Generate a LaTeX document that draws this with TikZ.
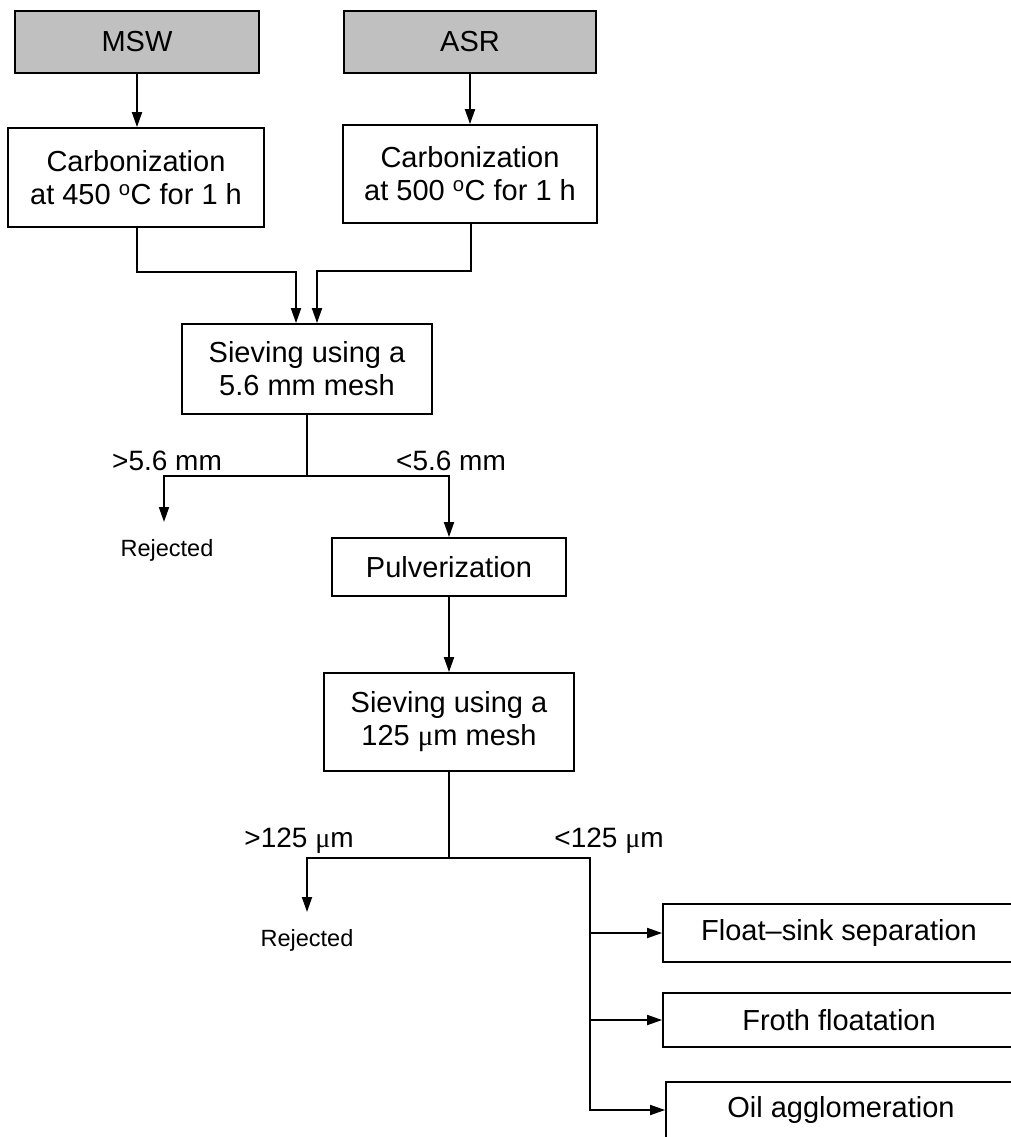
\documentclass[tikz,border=0pt]{standalone}
\usepackage{fontspec}
\setmainfont{Liberation Sans}
\newfontfamily\greekf{Liberation Serif}
\usetikzlibrary{arrows.meta}
\definecolor{srcgray}{HTML}{C0C0C0}
\newcommand{\umic}{{\greekf μ}m}
\begin{document}
\begin{tikzpicture}[x=1pt,y=-1pt,
  box/.style={draw, line width=1.8pt, inner sep=0pt, align=center, font=\fontsize{29}{33}\selectfont},
  src/.style={box, fill=srcgray},
  lbl/.style={font=\fontsize{28}{33}\selectfont, anchor=base, inner sep=0pt},
  rej/.style={font=\fontsize{23.5}{28}\selectfont, anchor=base, inner sep=0pt},
  ln/.style={line width=1.8pt},
  arr/.style={ln, -{Triangle[length=15pt,width=10pt]}}]
\useasboundingbox (0,0) rectangle (1011,1137);
\clip (0,0) rectangle (1011,1137);
% nodes
\node[src, minimum width=244pt, minimum height=62pt] (msw) at (137,42) {MSW};
\node[src, minimum width=252pt, minimum height=62pt] (asr) at (470,42) {ASR};
\node[box, minimum width=256pt, minimum height=99pt] (c1) at (136,177.5) {Carbonization\\at 450 \textsuperscript{o}C for 1 h};
\node[box, minimum width=254pt, minimum height=98pt] (c2) at (470,174) {Carbonization\\at 500 \textsuperscript{o}C for 1 h};
\node[box, minimum width=250pt, minimum height=90pt] (s1) at (307,369) {Sieving using a\\5.6 mm mesh};
\node[box, minimum width=234pt, minimum height=58pt] (pulv) at (449,567) {Pulverization};
\node[box, minimum width=250pt, minimum height=98pt] (s2) at (449,722) {Sieving using a\\125 \umic{} mesh};
\node[box, minimum width=352pt, minimum height=58pt] (float) at (839,933) {Float--sink separation};
\node[box, minimum width=352pt, minimum height=54pt] (froth) at (839,1020) {Froth floatation};
\node[box, minimum width=350pt, minimum height=56pt] (oil) at (841,1110) {Oil agglomeration};
% labels
\node[lbl] (l1) at (167,470) {>5.6 mm};
\node[lbl] (l2) at (451,470) {<5.6 mm};
\node[rej] (rj1) at (167,556) {Rejected};
\node[lbl] (l3) at (299,847) {>125 \umic};
\node[lbl] (l4) at (609,847) {<125 \umic};
\node[rej] (rj2) at (307,946) {Rejected};
% coordinates
\coordinate (k1) at (137,272);
\coordinate (k2) at (471,271);
\coordinate (b1) at (307,476);
\coordinate (r1) at (164,522);
\coordinate (b2) at (449,858);
\coordinate (r2) at (307,912);
\coordinate (v) at (590,858);
% connectors
\draw[arr] (msw.south) -- (msw.south |- c1.north);
\draw[arr] (asr.south) -- (asr.south |- c2.north);
\draw[arr] (k1 |- c1.south) -- (k1) -| ([xshift=-11pt]s1.north);
\draw[arr] (k2 |- c2.south) -- (k2) -| ([xshift=10pt]s1.north);
\draw[ln] (s1.south) -- (b1);
\draw[arr] (b1) -| (r1);
\draw[arr] (b1) -| (pulv.north);
\draw[arr] (pulv.south) -- (s2.north);
\draw[ln] (s2.south) -- (b2);
\draw[arr] (b2) -| (r2);
\draw[arr] (b2) -| (v |- oil.west) -- (oil.west);
\draw[arr] (v |- float.west) -- (float.west);
\draw[arr] (v |- froth.west) -- (froth.west);
\end{tikzpicture}
\end{document}
